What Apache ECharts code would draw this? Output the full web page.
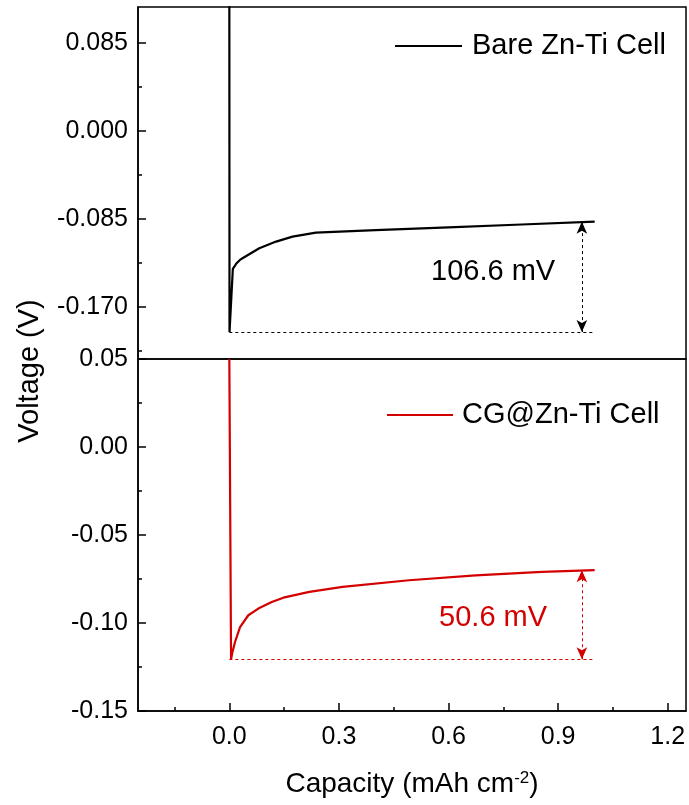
<!DOCTYPE html>
<html>
<head>
<meta charset="utf-8">
<script src="https://cdn.jsdelivr.net/npm/echarts@6/dist/echarts.min.js"></script>
<style>
html,body{margin:0;padding:0;background:#fff;}
#chart{width:689px;height:805px;}
</style>
</head>
<body>
<div id="chart"></div>
<script>
// ---- data ----
const bareX = [0, 0.0005, 0.0096, 0.020, 0.029, 0.036, 0.082, 0.128, 0.173, 0.237, 0.4, 0.6, 0.8, 1.0];
const bareY = [0.15, -0.1940, -0.1330, -0.1275, -0.1243, -0.1227, -0.1130, -0.1066, -0.1018, -0.0979, -0.0956, -0.0928, -0.0901, -0.0874];
const cgX = [0, 0.0047, 0.008, 0.0156, 0.0293, 0.052, 0.0794, 0.116, 0.148, 0.219, 0.310, 0.492, 0.674, 0.856, 1.0];
const cgY = [0.05, -0.1206, -0.1170, -0.1108, -0.1023, -0.0956, -0.0918, -0.0881, -0.0856, -0.0823, -0.0795, -0.0757, -0.0729, -0.0710, -0.0700];

const bareMin = -0.1940, bareEnd = -0.0874, bareDrop = '106.6 mV';
const cgMin = -0.1206, cgEnd = -0.0700, cgDrop = '50.6 mV';
const arrowX = 0.965, dashStart = 0, dashEnd = 1.0;
const bareLabelPos = [0.722, -0.136];
const cgLabelPos = [0.722, -0.097];

const topMajorTicks = [-0.17, -0.085, 0, 0.085];
const topMinorTicks = [-0.2125, -0.1275, -0.0425, 0.0425];
const xMajorTicks = [0, 0.3, 0.6, 0.9, 1.2];
const xMinorTicks = [-0.15, 0.15, 0.45, 0.75, 1.05];

const seriesNames = ['Bare Zn-Ti Cell', 'CG@Zn-Ti Cell'];
const RED = '#d40000';
const FONT = 'Liberation Sans, Arial, sans-serif';

const zip = (a, b) => a.map((v, i) => [v, b[i]]);

function annot(minV, endV, color) {
  const ls = {color: color, width: 1, type: [3, 3]};
  return {
    silent: true,
    label: {show: false},
    lineStyle: ls,
    data: [
      [{coord: [dashStart, minV], symbol: 'none'}, {coord: [dashEnd, minV], symbol: 'none'}],
      [{coord: [arrowX, minV], symbol: 'arrow', symbolSize: [8, 12]},
       {coord: [arrowX, endV], symbol: 'arrow', symbolSize: [8, 12]}]
    ]
  };
}

const chart = echarts.init(document.getElementById('chart'), null, {renderer: 'canvas'});
const tickLabel = {color: '#000', fontSize: 25, fontFamily: FONT};
const blackLine = {show: true, onZero: false, lineStyle: {color: '#000', width: 1.5}};

const option = {
  animation: false,
  backgroundColor: '#fff',
  textStyle: {fontFamily: FONT},
  grid: [
    {left: 138, top: 7, width: 548, height: 352, show: true, borderColor: '#000', borderWidth: 1.5, backgroundColor: 'transparent'},
    {left: 138, top: 359, width: 548, height: 352, show: true, borderColor: '#000', borderWidth: 1.5, backgroundColor: 'transparent'}
  ],
  xAxis: [
    {gridIndex: 0, type: 'value', min: -0.25, max: 1.25, position: 'bottom', axisLine: {show: false, onZero: false}, axisTick: {show: false}, axisLabel: {show: false}, splitLine: {show: false}},
    {gridIndex: 1, type: 'value', min: -0.25, max: 1.25, position: 'bottom',
     axisLine: blackLine,
     axisTick: {show: true, inside: true, length: 8, lineStyle: {color: '#000', width: 1.5}, customValues: xMajorTicks},
     axisLabel: {show: true, ...tickLabel, margin: 14, customValues: xMajorTicks, formatter: v => v.toFixed(1)},
     splitLine: {show: false},
     name: '{a|Capacity (mAh cm}{s|-2}{a|)}', nameLocation: 'middle', nameGap: 59,
     nameTextStyle: {rich: {a: {fontSize: 28, color: '#000', fontFamily: FONT}, s: {fontSize: 17, color: '#000', fontFamily: FONT, verticalAlign: 'top', padding: [0, 0, 12, 0]}}}},
    {gridIndex: 1, type: 'value', min: -0.25, max: 1.25, position: 'bottom',
     axisLine: {show: false, onZero: false},
     axisTick: {show: true, inside: true, length: 4, lineStyle: {color: '#000', width: 1.5}, customValues: xMinorTicks},
     axisLabel: {show: false}, splitLine: {show: false}}
  ],
  yAxis: [
    {gridIndex: 0, type: 'value', min: -0.22, max: 0.12, position: 'left',
     axisLine: blackLine,
     axisTick: {show: true, inside: true, length: 8, lineStyle: {color: '#000', width: 1.5}, customValues: topMajorTicks},
     axisLabel: {show: true, ...tickLabel, margin: 10, customValues: topMajorTicks, formatter: v => v.toFixed(3)},
     splitLine: {show: false}},
    {gridIndex: 0, type: 'value', min: -0.22, max: 0.12, position: 'left',
     axisLine: {show: false, onZero: false},
     axisTick: {show: true, inside: true, length: 4, lineStyle: {color: '#000', width: 1.5}, customValues: topMinorTicks},
     axisLabel: {show: false}, splitLine: {show: false}},
    {gridIndex: 1, type: 'value', min: -0.15, max: 0.05, interval: 0.05, position: 'left',
     axisLine: blackLine,
     axisTick: {show: true, inside: true, length: 8, lineStyle: {color: '#000', width: 1.5}},
     minorTick: {show: true, splitNumber: 2, length: 4, lineStyle: {color: '#000', width: 1.5}},
     axisLabel: {show: true, ...tickLabel, margin: 10, formatter: v => v.toFixed(2)},
     splitLine: {show: false}, minorSplitLine: {show: false}}
  ],
  legend: [
    {data: [seriesNames[0]], left: 395, top: 31, padding: 0, icon: 'rect', itemWidth: 67, itemHeight: 2,
     textStyle: {fontSize: 29, color: '#000', fontFamily: FONT, lineHeight: 30, padding: [0, 0, 0, 5]}},
    {data: [seriesNames[1]], left: 387, top: 400, padding: 0, icon: 'rect', itemWidth: 66, itemHeight: 2,
     textStyle: {fontSize: 29, color: '#000', fontFamily: FONT, lineHeight: 30, padding: [0, 0, 0, 4]}}
  ],
  graphic: [
    {type: 'text', x: 30, y: 371, rotation: Math.PI / 2,
     style: {text: 'Voltage (V)', fontSize: 29, fontFamily: FONT, fill: '#000', align: 'center', verticalAlign: 'middle'}}
  ],
  series: [
    {name: seriesNames[0], type: 'line', xAxisIndex: 0, yAxisIndex: 0, data: zip(bareX, bareY),
     showSymbol: false, clip: true, smooth: false, color: '#000', lineStyle: {color: '#000', width: 2.2}, itemStyle: {color: '#000'},
     markLine: annot(bareMin, bareEnd, '#000')},
    {name: seriesNames[1], type: 'line', xAxisIndex: 1, yAxisIndex: 2, data: zip(cgX, cgY),
     showSymbol: false, clip: true, color: RED, lineStyle: {color: RED, width: 2.2}, itemStyle: {color: RED},
     markLine: annot(cgMin, cgEnd, RED)},
    {name: 'label1', type: 'scatter', xAxisIndex: 0, yAxisIndex: 0, data: [bareLabelPos], symbolSize: 0,
     itemStyle: {color: '#000', opacity: 1}, silent: true, z: 5,
     label: {show: true, position: 'inside', formatter: bareDrop, fontSize: 29, color: '#000', opacity: 1, fontFamily: FONT}},
    {name: 'label2', type: 'scatter', xAxisIndex: 1, yAxisIndex: 2, data: [cgLabelPos], symbolSize: 0,
     itemStyle: {color: RED, opacity: 1}, silent: true, z: 5,
     label: {show: true, position: 'inside', formatter: cgDrop, fontSize: 29, color: RED, opacity: 1, fontFamily: FONT}}
  ]
};
chart.setOption(option);
</script>
</body>
</html>
